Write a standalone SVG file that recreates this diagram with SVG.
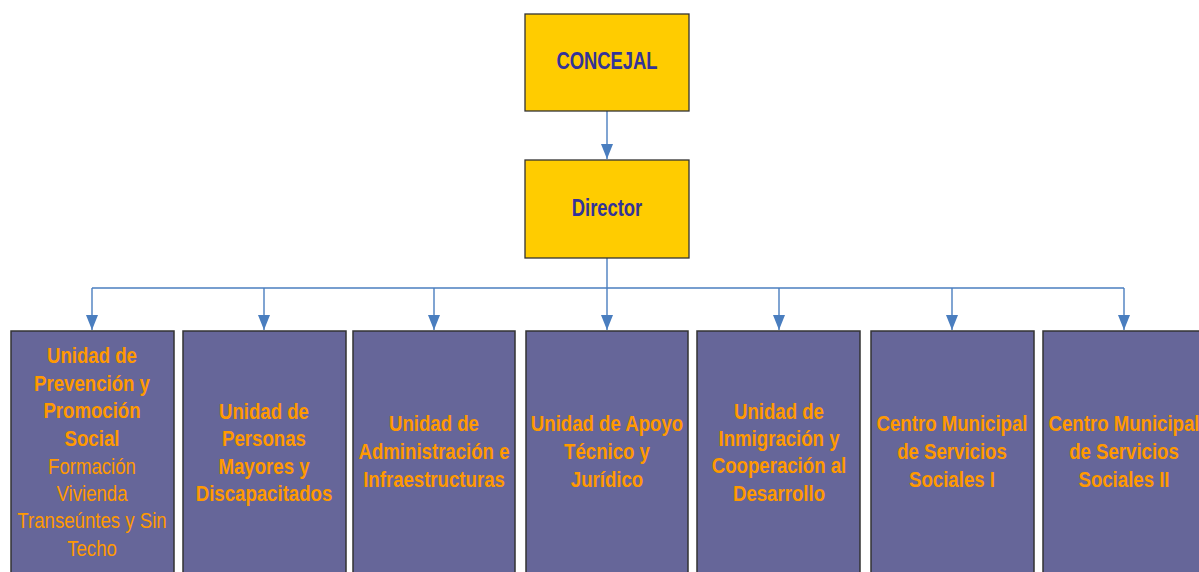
<svg xmlns="http://www.w3.org/2000/svg" width="1199" height="572" viewBox="0 0 1199 572">
<defs>
<style>
.bg{fill:#ffffff}
.top{fill:#ffcc00;stroke:#333333;stroke-width:1.3}
.unit{fill:#666699;stroke:#333333;stroke-width:1.5}
.t{font-family:"Liberation Sans",Arial,sans-serif;font-size:23px;text-anchor:middle}
.b{font-weight:bold}
.dark{fill:#333399}
.or{fill:#ff9900}
.conn{fill:none;stroke:#4a7ebf;stroke-width:1.4}
</style>
<marker id="arr" viewBox="0 0 15 12" refX="15" refY="6" markerWidth="15" markerHeight="12" markerUnits="userSpaceOnUse" orient="auto">
<path d="M0 0 L15 6 L0 12 z" fill="#4a7ebf"/>
</marker>
</defs>
<rect class="bg" x="0" y="0" width="1199" height="572"/>
<g id="connectors">
<path class="conn" d="M607 111 V159" marker-end="url(#arr)"/>
<path class="conn" d="M607 258 V330" marker-end="url(#arr)"/>
<path class="conn" d="M92 288 H1124"/>
<path class="conn" d="M92 288 V330" marker-end="url(#arr)"/>
<path class="conn" d="M264 288 V330" marker-end="url(#arr)"/>
<path class="conn" d="M434 288 V330" marker-end="url(#arr)"/>
<path class="conn" d="M779 288 V330" marker-end="url(#arr)"/>
<path class="conn" d="M952 288 V330" marker-end="url(#arr)"/>
<path class="conn" d="M1124 288 V330" marker-end="url(#arr)"/>
</g>
<g id="concejal">
<rect class="top" x="525" y="14" width="164" height="97"/>
<g transform="translate(607 0) scale(0.8 1)"><text class="t b dark" x="0" y="69">CONCEJAL</text></g>
</g>
<g id="director">
<rect class="top" x="525" y="160" width="164" height="98"/>
<g transform="translate(607 0) scale(0.8 1)"><text class="t b dark" x="0" y="216">Director</text></g>
</g>
<g id="unidad-prevencion">
<rect class="unit" x="11" y="331" width="163" height="250"/>
<g transform="translate(92 0) scale(0.81 1)">
<text class="t b or" x="0" y="363">Unidad de</text>
<text class="t b or" x="0" y="391">Prevención y</text>
<text class="t b or" x="0" y="418.5">Promoción</text>
<text class="t b or" x="0" y="446">Social</text>
<text class="t or" x="0" y="474">Formación</text>
<text class="t or" x="0" y="501">Vivienda</text>
<text class="t or" x="0" y="528.5">Transeúntes y Sin</text>
<text class="t or" x="0" y="556">Techo</text>
</g>
</g>
<g id="unidad-mayores">
<rect class="unit" x="183" y="331" width="163" height="250"/>
<g transform="translate(264 0) scale(0.81 1)">
<text class="t b or" x="0" y="419">Unidad de</text>
<text class="t b or" x="0" y="446.5">Personas</text>
<text class="t b or" x="0" y="474">Mayores y</text>
<text class="t b or" x="0" y="501">Discapacitados</text>
</g>
</g>
<g id="unidad-administracion">
<rect class="unit" x="353" y="331" width="162" height="250"/>
<g transform="translate(434 0) scale(0.81 1)">
<text class="t b or" x="0" y="431">Unidad de</text>
<text class="t b or" x="0" y="459">Administración e</text>
<text class="t b or" x="0" y="487">Infraestructuras</text>
</g>
</g>
<g id="unidad-apoyo">
<rect class="unit" x="526" y="331" width="162" height="250"/>
<g transform="translate(607 0) scale(0.81 1)">
<text class="t b or" x="0" y="431">Unidad de Apoyo</text>
<text class="t b or" x="0" y="459">Técnico y</text>
<text class="t b or" x="0" y="487">Jurídico</text>
</g>
</g>
<g id="unidad-inmigracion">
<rect class="unit" x="697" y="331" width="163" height="250"/>
<g transform="translate(779 0) scale(0.81 1)">
<text class="t b or" x="0" y="419">Unidad de</text>
<text class="t b or" x="0" y="446">Inmigración y</text>
<text class="t b or" x="0" y="473.5">Cooperación al</text>
<text class="t b or" x="0" y="501">Desarrollo</text>
</g>
</g>
<g id="centro-1">
<rect class="unit" x="871" y="331" width="163" height="250"/>
<g transform="translate(952 0) scale(0.81 1)">
<text class="t b or" x="0" y="431">Centro Municipal</text>
<text class="t b or" x="0" y="459">de Servicios</text>
<text class="t b or" x="0" y="487">Sociales I</text>
</g>
</g>
<g id="centro-2">
<rect class="unit" x="1043" y="331" width="163" height="250"/>
<g transform="translate(1124 0) scale(0.81 1)">
<text class="t b or" x="0" y="431">Centro Municipal</text>
<text class="t b or" x="0" y="459">de Servicios</text>
<text class="t b or" x="0" y="487">Sociales II</text>
</g>
</g>
</svg>
